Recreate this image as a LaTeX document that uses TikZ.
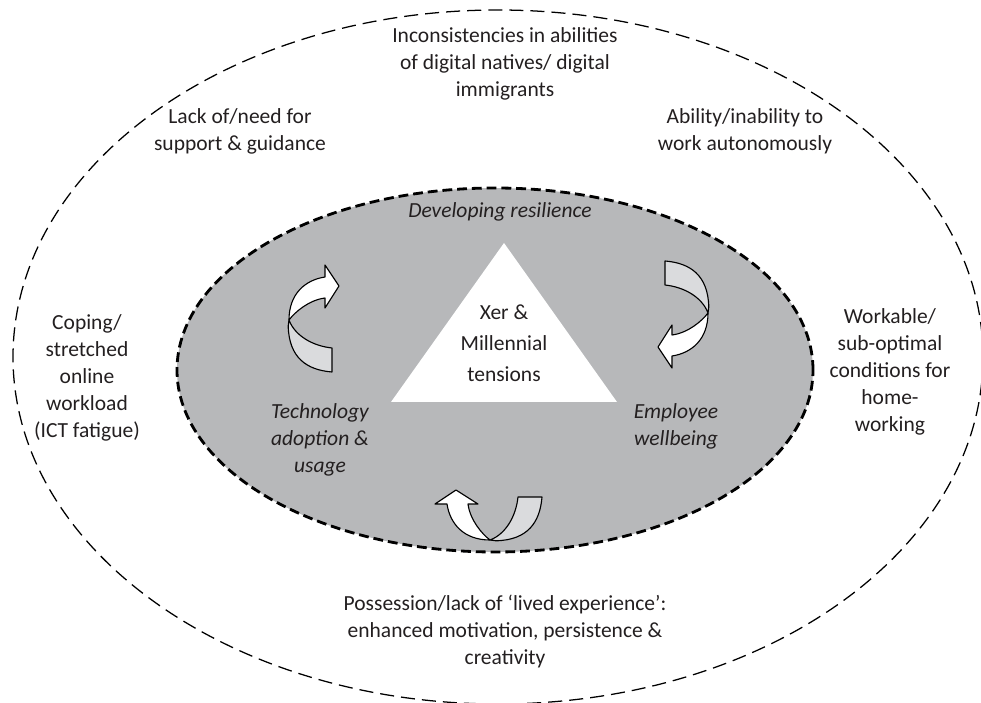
\documentclass[tikz,border=0pt]{standalone}
\usepackage{fontspec}
\setmainfont{Carlito}
\usepackage{tikz}

\definecolor{ringgray}{RGB}{183,184,186}
\definecolor{backgray}{RGB}{218,219,221}
\definecolor{txtgray}{RGB}{35,31,32}

\tikzset{
  ribbon arrow/.pic={
    % back side of the band (tail)
    \filldraw[fill=backgray] (0,0) .. controls (0.4,0.15) and (0.65,0.6) .. (0.7,1.075)
      -- (1.3,1.075) .. controls (1.25,0.45) and (0.95,0) .. (0.15,-0.02) -- cycle;
    % front side with the head
    \filldraw[fill=white] (0,0) .. controls (-0.2,0.15) and (-0.5,0.5) .. (-0.55,0.9)
      -- (-0.3,0.9) -- (-0.85,1.25) -- (-1.375,0.9) -- (-1.075,0.9)
      .. controls (-1.0,0.4) and (-0.65,0) .. (0,0) -- cycle;
  }
}

\begin{document}
\begin{tikzpicture}[every node/.style={font=\fontsize{15.3}{19.2}\selectfont,text=txtgray,align=center},
    lbl/.style={inner sep=0pt}, it/.style={font=\fontsize{15.3}{19.2}\selectfont\itshape},
    band/.style={line width=0.8pt,line join=round}]
  \useasboundingbox (0,0) rectangle (24.525,17.575);
  % rings
  \draw[line width=0.9pt,dash pattern=on 10pt off 5pt] (12.45,8.65) ellipse [x radius=12.125,y radius=8.675];
  \filldraw[fill=ringgray,line width=2pt,dash pattern=on 7pt off 3.5pt] (12.375,8.325) ellipse [x radius=7.95,y radius=4.55];
  % core
  \fill[white] (12.6,11.5) -- (15.425,7.525) -- (9.775,7.525) -- cycle;
  \node[lbl,font=\fontsize{15.3}{22}\selectfont] (xer) at (12.6,9.0) {Xer \&\\Millennial\\tensions};
  \node[lbl,it] (res) at (12.5,12.275) {Developing resilience};
  \node[lbl,it] (tech) at (8.0,6.575) {Technology\\adoption \&\\usage};
  \node[lbl,it] (empl) at (16.9,6.925) {Employee\\wellbeing};
  % cycle arrows
  \pic[band,rotate=-90] at (7.225,9.575) {ribbon arrow};
  \pic[band,rotate=90] at (17.7,9.75) {ribbon arrow};
  \pic[band] at (12.25,4.075) {ribbon arrow};
  % outer ring labels
  \node[lbl] (incons) at (12.625,15.975) {Inconsistencies in abilities\\of digital natives/ digital\\immigrants};
  \node[lbl] (lack) at (6.0,14.3) {Lack of/need for\\support \& guidance};
  \node[lbl] (ability) at (18.625,14.3) {Ability/inability to\\work autonomously};
  \node[lbl] (coping) at (2.175,8.125) {Coping/\\stretched\\online\\workload\\(ICT fatigue)};
  \node[lbl] (workable) at (22.25,8.275) {Workable/\\sub-optimal\\conditions for\\home-\\working};
  \node[lbl] (poss) at (12.625,1.8) {Possession/lack of ‘lived experience’:\\enhanced motivation, persistence \&\\creativity};
\end{tikzpicture}
\end{document}
